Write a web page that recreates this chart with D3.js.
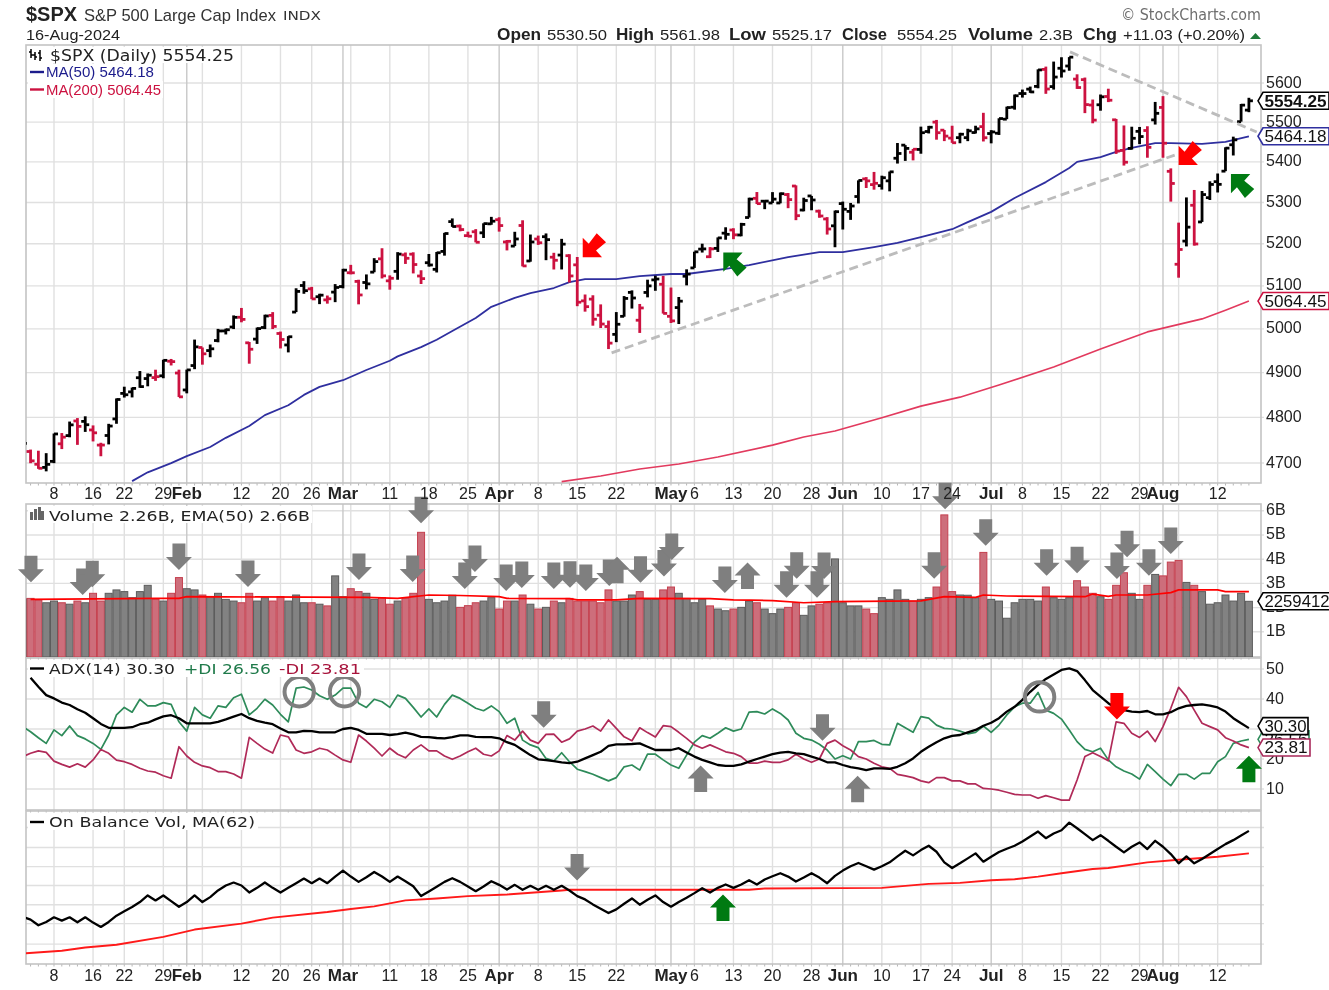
<!DOCTYPE html>
<html>
<head>
<meta charset="utf-8">
<script src="https://cdn.jsdelivr.net/npm/d3@7"></script>
<style>
  html, body { margin: 0; padding: 0; background: #fff; }
  svg { display: block; filter: blur(0.45px); }
  text { font-family: "Liberation Sans", Arial, sans-serif; }
  .spaced { font-family: "DejaVu Sans", sans-serif; }
</style>
</head>
<body>
<div id="chart"></div>
<script>
// Daily bars, 2-Jan-2024 to 16-Aug-2024 (158 sessions)
var opens = [4745.2,4725.1,4697.4,4690.6,4703.7,4741.9,4759.9,4792.1,4791.2,4772.3,4739.1,4760.1,4796.6,4853.4,4856.8,4888.6,4886.7,4888.9,4892.9,4925.9,4899.2,
  4861.1,4916.1,4957.2,4950.2,4973.1,4995.2,5004.2,5026.8,4967.9,4976.4,5003.1,5031.1,4989.3,4963.0,5038.8,5100.9,5093.0,5074.6,5067.2,5085.4,
  5098.5,5131.0,5110.5,5108.0,5132.4,5164.0,5111.9,5134.3,5173.5,5175.1,5123.3,5154.8,5139.1,5181.7,5253.4,5242.5,5219.5,5228.9,5226.3,5248.0,
  5258.0,5204.3,5194.4,5244.0,5158.9,5211.4,5217.0,5167.9,5173.0,5171.5,5149.7,5064.9,5069.0,5031.5,5005.4,4987.3,5028.9,5084.7,5019.9,5084.6,5114.1,5103.8,
  5029.0,5049.3,5122.8,5142.4,5187.2,5169.0,5189.0,5225.5,5233.1,5221.1,5263.3,5310.1,5303.1,5298.7,5298.7,5319.3,5340.3,5281.5,5315.9,5278.7,5259.8,5243.2,
  5297.2,5278.2,5314.5,5357.8,5343.8,5341.2,5353.0,5409.1,5441.9,5424.1,5431.1,5476.2,5500.0,5479.6,5459.6,5460.7,5460.7,5473.6,5488.5,
  5471.1,5471.9,5507.4,5537.9,5572.9,5584.2,5591.3,5635.2,5590.8,5638.2,5644.1,5610.1,5608.7,5543.4,5544.1,5565.3,5505.8,5428.7,5433.7,5476.6,5478.7,5505.6,
  5537.3,5376.6,5151.1,5206.4,5293.1,5252.6,5311.7,5351.0,5377.0,5442.8,5501.1,5530.5];
var highs = [4754.3,4729.3,4726.8,4721.5,4764.5,4765.5,4790.8,4798.5,4802.4,4782.3,4744.2,4785.8,4842.1,4868.4,4866.5,4903.7,4898.2,4906.7,4929.3,4931.1,4906.8,
  4906.9,4975.3,4957.2,4964.0,4999.9,5000.4,5031.0,5048.4,4969.8,5003.0,5032.7,5038.7,4993.7,4983.2,5094.4,5111.1,5097.7,5081.5,5077.4,5104.2,
  5140.3,5149.7,5114.5,5127.0,5165.6,5189.3,5124.7,5179.9,5179.1,5179.5,5136.9,5175.6,5180.3,5226.2,5261.1,5246.1,5229.1,5235.2,5249.3,5264.9,
  5263.9,5209.0,5228.8,5256.6,5222.2,5219.6,5224.8,5178.4,5211.8,5175.0,5168.4,5079.8,5078.0,5056.7,5019.0,5038.8,5076.1,5089.5,5057.7,5114.6,5124.0,5123.5,
  5096.1,5073.9,5139.1,5181.0,5200.2,5192.0,5215.3,5239.7,5237.3,5250.4,5311.6,5325.5,5305.4,5325.3,5324.3,5323.2,5341.9,5311.6,5315.9,5282.3,5264.2,5280.3,
  5302.1,5298.8,5354.2,5362.3,5375.1,5365.8,5376.0,5447.2,5441.9,5432.4,5488.5,5490.4,5505.5,5480.0,5490.8,5472.9,5483.1,5490.8,5523.6,
  5479.6,5509.7,5539.3,5570.3,5583.1,5590.8,5635.4,5642.5,5655.6,5666.9,5667.3,5622.5,5614.1,5557.5,5570.4,5585.3,5508.0,5491.5,5488.3,5487.7,5489.5,5551.4,
  5566.2,5383.9,5250.9,5312.3,5330.6,5328.0,5351.9,5371.2,5436.5,5463.2,5546.2,5561.98];
var lows = [4722.7,4699.7,4687.5,4682.1,4699.8,4730.4,4756.2,4739.6,4768.0,4747.1,4714.8,4740.6,4785.9,4844.1,4844.4,4865.9,4869.3,4881.5,4887.4,4916.3,4845.2,
  4853.5,4907.9,4918.1,4935.0,4969.1,4987.1,4999.5,5015.1,4920.3,4965.4,4999.4,4999.5,4955.0,4946.0,5038.8,5081.5,5068.9,5057.3,5058.4,5061.9,
  5094.2,5127.2,5056.8,5091.9,5132.2,5117.5,5091.1,5114.5,5151.9,5129.4,5104.4,5145.5,5131.6,5171.6,5240.7,5229.9,5216.1,5203.4,5213.9,5245.8,
  5229.2,5184.1,5194.4,5146.1,5157.2,5197.3,5160.8,5138.7,5138.8,5107.9,5052.5,5039.8,5007.3,5001.9,4953.6,4969.4,5028.0,5047.0,4990.6,5073.1,5088.5,5035.3,
  5013.5,5011.1,5101.2,5142.4,5179.0,5165.9,5180.4,5209.7,5211.0,5218.0,5263.3,5296.2,5283.6,5298.7,5297.9,5286.0,5256.9,5278.4,5280.9,5262.7,5222.1,5191.7,
  5234.3,5257.6,5297.6,5335.4,5331.3,5331.5,5327.2,5395.9,5402.5,5403.8,5420.4,5471.3,5455.6,5452.0,5447.6,5446.6,5451.9,5471.3,5451.1,
  5446.4,5467.5,5507.4,5531.6,5562.5,5574.6,5586.4,5572.2,5583.1,5614.1,5631.8,5584.8,5522.8,5497.0,5529.0,5550.9,5420.0,5390.9,5430.7,5444.4,5410.4,5493.8,
  5410.4,5302.0,5119.3,5193.6,5195.5,5252.6,5306.0,5324.4,5377.0,5416.0,5501.1,5525.17];
var closes = [4742.8,4704.8,4688.7,4697.2,4763.5,4756.5,4783.5,4780.2,4783.8,4766.0,4739.2,4780.9,4839.8,4850.4,4864.6,4868.6,4894.2,4891.0,4927.9,4925.0,4845.7,
  4906.2,4958.6,4942.8,4954.2,4995.1,4997.9,5026.6,5021.8,4953.2,5000.6,5029.7,5005.6,4975.5,4981.8,5087.0,5088.8,5069.5,5078.2,5069.8,5096.3,
  5137.1,5130.9,5078.7,5104.8,5157.4,5123.7,5117.9,5175.3,5165.3,5150.5,5117.1,5149.4,5178.5,5224.6,5241.5,5234.2,5218.2,5203.6,5248.5,5254.4,
  5243.8,5205.8,5211.5,5147.2,5204.3,5202.4,5209.9,5160.6,5199.1,5123.4,5061.8,5051.4,5022.2,5011.1,4967.2,5010.6,5070.6,5071.6,5048.4,5100.0,5116.2,5035.7,
  5018.4,5064.2,5127.8,5180.7,5187.7,5187.67,5214.1,5222.7,5221.4,5246.7,5308.2,5297.1,5303.3,5308.1,5321.4,5307.0,5267.8,5304.7,5306.0,5267.0,5235.5,5277.5,
  5283.4,5291.3,5354.0,5353.0,5347.0,5360.8,5375.3,5421.0,5433.7,5431.6,5473.2,5487.0,5473.2,5464.6,5447.9,5469.3,5477.9,5482.9,5460.5,
  5475.1,5509.0,5537.0,5567.2,5572.9,5577.0,5633.9,5584.5,5615.4,5631.2,5667.2,5588.3,5544.6,5505.0,5564.4,5555.7,5427.1,5399.2,5459.1,5463.5,5436.4,5522.3,
  5446.7,5346.6,5186.3,5240.0,5199.5,5319.3,5344.2,5344.4,5434.4,5455.2,5543.2,5554.25];

var ma50Days = [14,16,19,21,24,26,29,31,34,36,38,41,44,47,48,51,53,55,58,60,63,65,68,70,72,76,79,83,85,90,93,98,102,105,109,112,115,119,121,124,127,131,134,135,138,140,142,145,147,151,154,157];
var ma50Vals = [4661,4680,4700,4715,4735,4755,4781,4805,4827,4850,4868,4883,4906,4927,4937,4958,4975,4995,5025,5051,5072,5083,5095,5109,5116,5116,5123,5128,5128,5140,5149,5168,5180,5180,5192,5202,5216,5235,5252,5277,5311,5350,5385,5400,5412,5425,5435,5447,5447,5445,5450,5464.18];
var ma200Days = [69,74,79,84,89,96,100,104,110,115,120,125,132,138,144,151,154,157];
var ma200Vals = [4660,4672,4687,4698,4713,4739,4757,4770,4799,4825,4845,4872,4913,4954,4993,5023,5043,5064.45];

// Volume, billions of shares
var volumes = [2.36,2.38,2.31,2.20,2.27,2.20,2.14,2.27,2.20,2.59,2.27,2.59,2.73,2.66,2.41,2.66,2.92,2.34,2.27,2.59,3.24,
  2.78,2.73,2.52,2.45,2.59,2.34,2.27,2.20,2.59,2.27,2.41,2.27,2.45,2.27,2.52,2.20,2.20,2.14,2.07,3.31,
  2.45,2.78,2.66,2.59,2.34,2.41,2.14,2.27,2.38,2.59,5.11,2.34,2.20,2.27,2.51,2.01,2.08,2.20,2.27,2.41,
  1.94,2.27,2.27,2.52,2.14,1.94,2.01,2.27,2.20,2.38,2.27,2.27,2.27,2.20,2.73,2.27,2.27,2.52,2.66,2.34,2.34,2.73,
  2.85,2.59,2.38,2.20,2.34,2.07,1.94,1.87,1.94,2.01,2.27,2.20,1.94,1.75,1.94,2.01,2.20,1.68,2.07,2.14,2.20,4.01,
  2.20,2.07,2.07,1.94,1.75,2.41,2.34,2.73,2.34,2.27,2.34,2.41,2.85,5.83,2.66,2.52,2.51,2.41,4.28,
  2.34,2.27,1.56,2.20,2.34,2.34,2.27,2.85,2.41,2.34,2.41,3.11,2.85,2.59,2.45,2.34,2.92,3.44,2.59,2.34,2.92,3.37,
  3.31,3.88,3.95,3.04,2.92,2.66,2.14,2.20,2.52,2.27,2.59,2.26];
var emaDays = [1,17,20,21,44,48,52,56,61,62,70,71,76,79,88,91,96,100,104,111,115,118,122,123,126,136,137,139,140,144,147,148,153,154,157];
var emaVals = [2.34,2.38,2.38,2.45,2.42,2.38,2.52,2.50,2.45,2.38,2.37,2.32,2.32,2.38,2.37,2.32,2.29,2.20,2.25,2.27,2.28,2.45,2.42,2.52,2.48,2.45,2.56,2.46,2.52,2.52,2.62,2.73,2.73,2.66,2.66];

// ADX(14), +DI, -DI
var adx = [null,47.1,44.1,41.3,40.2,38.8,38,36.6,35.4,33.6,31.7,30.4,30.4,30.4,30.6,31.6,32.1,33.2,34.2,34.6,33.6,31.9,31.9,31.9,31.9,32.4,33.2,34.1,35,33.6,32.7,32.1,31.6,30.2,28.9,28.9,29.4,29.3,28.9,28.9,28.9,30,30.4,29.7,28.4,28.4,28.4,28,28.3,28.8,28.2,27.4,27.3,27,26.9,
  27.3,27.9,27.9,27.4,27.3,27.3,26.9,25.6,24.7,23,21.3,19.9,19.6,19.3,18.9,18.6,19.1,20.2,21.3,22.4,24.4,24.9,24.9,25,25.2,24.1,23,23,23,23.6,22.2,20.8,19.7,18.9,18,17.7,17.7,18.2,19.1,20,20.8,21.6,22.1,22.4,21.9,21.6,20.8,20,18.9,18.9,18,17.3,16.9,16.3,16.9,16.9,16.7,
  17.4,18.6,20.2,22.4,24.1,25.6,26.9,27.7,28,28.9,29.7,31.1,32.1,33.6,35.8,37.4,39.7,42.4,44.7,46.7,48.2,49.7,50.2,49.3,46.3,43,40.8,38.6,36.9,36.3,35.8,35.6,36,34.9,34.9,35.6,36.9,37.7,38,38.2,37.8,37.2,35.8,33.6,31.9,30.3];
var plusDI = [30.8,29.1,27.1,25.2,29.7,27.8,31,27.8,26.7,25.2,23.2,28,34.7,37.2,35.6,39.9,37.7,37.7,38.8,38.2,32.4,29.3,37.2,34.7,33.6,37.7,37.2,40.4,41.6,34.7,36.9,39.9,38,34.9,32.4,43.6,44,43,41.1,39.9,41.3,43.6,43.6,38.6,37.2,39.9,39.1,37.2,41.3,40.2,37.2,34,36.7,34,38.2,
  41.3,40.2,38.6,36.9,36.1,37.7,35.8,31.9,33.6,26.3,24.7,23.8,20.2,19.3,22.1,19.1,16.6,15.8,14.9,13.8,12.7,13.8,17.4,18,16.3,21.6,21.6,19.7,18,16.9,21.3,25.6,27.8,26.9,28.6,30.4,29.3,30,35.6,35.8,35,36.7,35.2,33,28.6,26.9,26.3,24.9,23,20,21.1,20,25.8,25.8,26.2,24.9,24.7,
  31.9,30.4,28.9,34.1,33.6,31.3,30.2,30,29.3,28.4,28.9,31,28.9,31.3,34.7,37.4,38.6,38.6,42.2,36.3,35.2,33.3,29.7,25.8,23.2,22.4,23.6,19.7,17.4,16,15,13.3,18.2,15.8,13.3,11.1,14.9,14.9,13.3,15.2,15.2,19.1,20.8,25.2,26,26.56];
var minusDI = [20.8,21.9,22.7,22.2,19.3,18.2,17.3,18.4,17.3,19.7,23.2,21.9,19.6,19.1,18.2,16.9,16,15.6,14.4,13.6,24.1,21,18.9,17.7,17.1,15.8,15.8,15,13.6,27.2,25.2,23.3,22,28,27.4,23,21.9,22.4,23.6,23,21.3,19.7,18.9,28,26,23.6,21,23.6,21.6,20.4,23,24.7,22.7,22.7,21,
  19.9,21,22.4,23.6,21.6,21,22.7,27.8,26.3,29.3,26.3,25.2,28.2,28.3,25.6,26.7,29.3,30,31,29.3,33,30.2,27.4,26.1,30.4,28.8,27.3,31.1,30.8,28.9,26.9,24.7,23.6,24.7,23.6,22.4,21.9,20.8,18.6,18.6,19.3,18.9,18.9,19.7,21.6,20,18.9,20,25.2,26.3,24.4,23,20.8,20,18.6,17.4,16.9,
  14.9,14.4,13.8,12.7,12.1,13.8,13.8,12.7,12.7,11.7,11.7,10.2,10,9.6,8.9,8.2,8,8,6.9,7.8,7.1,6.3,6.3,13,20.8,22.1,20.8,19.4,32.4,31.9,28.6,27.2,29.3,25.8,30.8,36.9,43.9,40.8,36.3,31.9,30.8,29.7,27.1,26,24.7,23.81];

// On Balance Volume, in arbitrary units (the panel has no axis)
var obv = [142,134,117,127,141,131,141,126,141,125,112,127,146,159,172,187,207,192,207,190,173,187,207,187,202,222,237,246,237,216,230,246,230,216,230,244,258,244,258,244,264,282,264,248,262,278,264,248,264,250,235,205,219,233,248,259,248,234,220,234,250,239,225,239,224,236,224,236,224,236,222,205,195,180,167,154,165,182,198,179,194,207,
  187,173,187,200,214,229,216,230,240,230,240,253,240,255,265,274,264,249,261,274,261,244,266,282,295,305,295,285,295,307,325,342,328,344,357,339,307,290,304,319,334,309,324,338,348,357,370,385,400,380,394,404,427,410,392,374,389,372,354,337,354,367,347,372,354,332,304,325,304,317,332,347,362,374,388,402];
var obvMaDays = [0,5,8,12,18,22,28,32,39,42,45,49,53,57,62,69,70,93,95,110,116,120,124,127,130,133,137,139,144,148,153,157];
var obvMaVals = [32,40,50,58,82,104,122,140,157,166,174,192,198,205,210,222,224,224,228,230,242,245,253,256,264,274,287,290,307,315,324,334];
var obvGrid = [60,122,179,237,294,352,412];

// Axis labels
var tickDays = [4,9,13,18,21,28,33,37,41,47,52,57,61,66,71,76,83,86,91,96,101,105,110,115,119,124,128,133,138,143,146,153];
var tickLabels = ['8','16','22','29','Feb','12','20','26','Mar','11','18','25','Apr','8','15','22','May','6','13','20','28','Jun','10','17','24','Jul','8','15','22','29','Aug','12'];
var extraGridDays = [23,42,81,148];
var priceTicks = [4700,4800,4900,5000,5100,5200,5300,5400,5500,5600];
var volTicks = [1,2,3,4,5,6];
var adxTicks = [10,20,30,40,50];
var adxLabels = [10,20,40,50];

// Annotations, as [session, panel value]
var volDownArrows = [[1.05,3.05],[7.67,2.52],[8.9,2.84],[20,3.55],[28.84,2.85],[43.05,3.14],[49.93,3.06],[51,5.48],[56.6,2.77],[57.9,3.47],[61.9,2.69],[63.9,2.81],[68,2.77],[70.07,2.82],[72.1,2.69],[75.1,2.89],[79.1,3.03],[82.1,3.28],[83.1,3.97],[89.9,2.6],[97.8,2.41],[99.1,3.19],[101.7,2.41],[102.6,3.18],[116.7,3.19],[118.1,6.06],[123.3,4.56],[131.1,3.32],[135,3.42],[140.1,3.18],[141.4,4.08],[144.2,3.32],[147,4.21]];
var volUpArrows = [[76.1,4.1],[92.8,3.86]];
var adxDownArrows = [[66.7,30.4],[102.4,26.1]];
var adxUpArrows = [[86.8,17.8],[106.9,14.4]];
var adxCircles = [[35.4,42.4],[41.2,42.4],[130.2,40.7]];
var trendLower = [[75.4,4945],[147.5,5417]];
var trendUpper = [[134.1,5681],[158,5475]];

var width = 1329, height = 990;
var plotLeft = 26, plotRight = 1261;
var priceTop = 45, priceBottom = 483;
var volTop = 504, volBottom = 657;
var adxTop = 658, adxBottom = 810;
var obvTop = 811, obvBottom = 964;

var svg = d3.select('#chart').append('svg')
  .attr('width', width)
  .attr('height', height);

// Scales
var x = d3.scaleLinear().domain([0, 157]).range([22.76, 1248.9]);
var yPrice = d3.scaleLog().domain([4657, 5699]).range([priceBottom, priceTop]);
var yVol = d3.scaleLinear().domain([0, 6.28]).range([656, volTop]);
var yAdx = d3.scaleLinear().domain([3, 53.67]).range([adxBottom, adxTop]);
var yObv = d3.scaleLinear().domain([0, 462]).range([obvBottom, obvTop]);

var panels = [
  { id: 'price', top: priceTop, bottom: priceBottom, grid: priceTicks, y: yPrice },
  { id: 'vol', top: volTop, bottom: volBottom, grid: volTicks, y: yVol },
  { id: 'adx', top: adxTop, bottom: adxBottom, grid: adxTicks, y: yAdx },
  { id: 'obv', top: obvTop, bottom: obvBottom, grid: obvGrid, y: yObv }
];

var defs = svg.append('defs');
panels.forEach(function (p) {
  defs.append('clipPath').attr('id', 'clip-' + p.id)
    .append('rect')
    .attr('x', plotLeft).attr('y', p.top)
    .attr('width', plotRight - plotLeft).attr('height', p.bottom - p.top);
});

// Grids and frames
var monthLabels = ['Feb', 'Mar', 'Apr', 'May', 'Jun', 'Jul', 'Aug'];
panels.forEach(function (p) {
  var g = svg.append('g');
  g.selectAll('.h').data(p.grid).enter().append('line')
    .attr('x1', plotLeft).attr('x2', plotRight + 3)
    .attr('y1', function (d) { return p.y(d); })
    .attr('y2', function (d) { return p.y(d); })
    .attr('stroke', '#e0e0e0').attr('stroke-width', 1.4);
  g.selectAll('.v').data(tickDays.concat(extraGridDays)).enter().append('line')
    .attr('x1', function (d) { return x(d); })
    .attr('x2', function (d) { return x(d); })
    .attr('y1', p.top).attr('y2', p.bottom)
    .attr('stroke', function (d) {
      var i = tickDays.indexOf(d);
      return i >= 0 && monthLabels.indexOf(tickLabels[i]) >= 0 ? '#c8c8c8' : '#e0e0e0';
    })
    .attr('stroke-width', 1.4);
  // minor day ticks along the bottom edge
  g.selectAll('.m').data(d3.range(1, 158)).enter().append('line')
    .attr('x1', function (d) { return x(d); })
    .attr('x2', function (d) { return x(d); })
    .attr('y1', p.bottom).attr('y2', p.bottom + 2.5)
    .attr('stroke', '#b5b5b5').attr('stroke-width', 1);
  g.append('rect')
    .attr('x', plotLeft).attr('y', p.top)
    .attr('width', plotRight - plotLeft).attr('height', p.bottom - p.top)
    .attr('fill', 'none').attr('stroke', '#c4c4c4').attr('stroke-width', 1.6);
});

var lineOf = function (yScale) {
  return d3.line()
    .defined(function (d) { return d.v != null; })
    .x(function (d) { return x(d.d); })
    .y(function (d) { return yScale(d.v); });
};
var byDay = function (values) {
  return values.map(function (v, i) { return { d: i, v: v }; });
};
var sampled = function (days, values) {
  return days.map(function (d, i) { return { d: d, v: values[i] }; });
};
var drawLine = function (id, yScale, pts, color, w) {
  return svg.append('path')
    .attr('clip-path', 'url(#clip-' + id + ')')
    .attr('d', lineOf(yScale)(pts))
    .attr('fill', 'none')
    .attr('stroke', color)
    .attr('stroke-width', w)
    .attr('stroke-linejoin', 'round');
};

var upDay = function (i) { return i === 0 || closes[i] >= closes[i - 1]; };
var barRed = '#cc1240';

// Price panel
drawLine('price', yPrice, sampled(ma200Days, ma200Vals), '#e23a5e', 1.6);
drawLine('price', yPrice, sampled(ma50Days, ma50Vals), '#2f2f9f', 1.8);

var bars = svg.append('g').attr('clip-path', 'url(#clip-price)')
  .selectAll('g').data(closes).enter().append('g')
  .attr('stroke', function (d, i) { return upDay(i) ? '#000' : barRed; })
  .attr('stroke-width', 2.8);
bars.append('line')
  .attr('x1', function (d, i) { return x(i); })
  .attr('x2', function (d, i) { return x(i); })
  .attr('y1', function (d, i) { return yPrice(highs[i]); })
  .attr('y2', function (d, i) { return yPrice(lows[i]); });
bars.append('line')
  .attr('x1', function (d, i) { return x(i) - 4; })
  .attr('x2', function (d, i) { return x(i); })
  .attr('y1', function (d, i) { return yPrice(opens[i]); })
  .attr('y2', function (d, i) { return yPrice(opens[i]); });
bars.append('line')
  .attr('x1', function (d, i) { return x(i); })
  .attr('x2', function (d, i) { return x(i) + 4; })
  .attr('y1', function (d, i) { return yPrice(closes[i]); })
  .attr('y2', function (d, i) { return yPrice(closes[i]); });

[trendLower, trendUpper].forEach(function (t) {
  svg.append('path')
    .attr('d', d3.line().x(function (d) { return x(d[0]); }).y(function (d) { return yPrice(d[1]); })(t))
    .attr('fill', 'none').attr('stroke', '#bcbcbc')
    .attr('stroke-width', 2.8).attr('stroke-dasharray', '9,5');
});

// Volume panel
svg.append('g').attr('clip-path', 'url(#clip-vol)')
  .selectAll('rect').data(volumes).enter().append('rect')
  .attr('x', function (d, i) { return x(i) - 3.5; })
  .attr('width', 7)
  .attr('y', function (d) { return yVol(d); })
  .attr('height', function (d) { return volBottom - yVol(d); })
  .attr('fill', function (d, i) { return upDay(i) ? '#828282' : '#cd6e7b'; })
  .attr('stroke', function (d, i) { return upDay(i) ? '#5c5c5c' : '#c5404f'; })
  .attr('stroke-width', 1);
drawLine('vol', yVol, sampled(emaDays, emaVals), '#ff0000', 1.7);

// ADX panel
drawLine('adx', yAdx, byDay(plusDI), '#2e8b5a', 1.7);
drawLine('adx', yAdx, byDay(minusDI), '#b02a58', 1.7);
drawLine('adx', yAdx, byDay(adx), '#000', 2.3);

// OBV panel
drawLine('obv', yObv, sampled(obvMaDays, obvMaVals), '#ff1a1a', 1.9);
drawLine('obv', yObv, byDay(obv), '#000', 2.3);

// Annotation arrows
var blockArrow = function (px, py, dir, color) {
  var shape = [[0, 0], [13, -13], [6.5, -13], [6.5, -26.5], [-6.5, -26.5], [-6.5, -13], [-13, -13]];
  svg.append('polygon')
    .attr('points', shape.map(function (p) { return [px + p[0], py + (dir === 'down' ? p[1] : -p[1])].join(','); }).join(' '))
    .attr('fill', color);
};
var cornerArrow = function (px, py, flip, color) {
  var shape = [[0, 0], [19.3, 0], [13.3, -6.7], [23.3, -15], [14, -24], [6, -13.3], [0, -19.3]];
  svg.append('polygon')
    .attr('points', shape.map(function (p) { return [px + p[0], py + (flip ? -p[1] : p[1])].join(','); }).join(' '))
    .attr('fill', color);
};
var arrowGrey = '#7f7f7f';

cornerArrow(x(71.7), yPrice(5168), false, '#ff0000');
cornerArrow(x(148), yPrice(5392), false, '#ff0000');
cornerArrow(x(89.7), yPrice(5179), true, '#007a12');
cornerArrow(x(154.7), yPrice(5370), true, '#007a12');

volDownArrows.forEach(function (a) { blockArrow(x(a[0]), yVol(a[1]), 'down', arrowGrey); });
volUpArrows.forEach(function (a) { blockArrow(x(a[0]), yVol(a[1]), 'up', arrowGrey); });
adxDownArrows.forEach(function (a) { blockArrow(x(a[0]), yAdx(a[1]), 'down', arrowGrey); });
adxUpArrows.forEach(function (a) { blockArrow(x(a[0]), yAdx(a[1]), 'up', arrowGrey); });
blockArrow(x(140.1), yAdx(33.2), 'down', '#ff0000');
blockArrow(x(157), yAdx(21.1), 'up', '#007a12');
blockArrow(x(70.98), yObv(252), 'down', arrowGrey);
blockArrow(x(89.66), yObv(210), 'up', '#007a12');

svg.selectAll('.circ').data(adxCircles).enter().append('circle')
  .attr('cx', function (d) { return x(d[0]); })
  .attr('cy', function (d) { return yAdx(d[1]); })
  .attr('r', 14.7)
  .attr('fill', 'none').attr('stroke', '#7f7f7f').attr('stroke-width', 4);

// Date labels
[493, 975].forEach(function (mid) {
  svg.selectAll('.xt' + mid).data(tickLabels).enter().append('text')
    .attr('x', function (d, i) { return x(tickDays[i]); })
    .attr('y', mid + 6)
    .attr('text-anchor', 'middle')
    .attr('font-size', function (d) { return monthLabels.indexOf(d) >= 0 ? 17 : 16; })
    .attr('font-weight', function (d) { return monthLabels.indexOf(d) >= 0 ? 'bold' : 'normal'; })
    .attr('fill', '#222')
    .text(function (d) { return d; });
});

// Right axis labels
var axisLabels = function (ticks, yScale, fmt) {
  svg.append('g').selectAll('text').data(ticks).enter().append('text')
    .attr('x', 1266)
    .attr('y', function (d) { return yScale(d) + 4.5; })
    .attr('font-size', 16)
    .attr('fill', '#222')
    .text(fmt);
};
axisLabels(priceTicks, yPrice, function (d) { return d; });
axisLabels(volTicks, yVol, function (d) { return d + 'B'; });
axisLabels(adxLabels, yAdx, function (d) { return d; });

// Value tags
var valueTag = function (cy, label, color, right, textW, bold) {
  var g = svg.append('g');
  g.append('polygon')
    .attr('points', [[1258, cy], [1263, cy - 8.5], [right, cy - 8.5], [right, cy + 8.5], [1263, cy + 8.5]].join(' '))
    .attr('fill', '#fff').attr('stroke', color).attr('stroke-width', 1.6);
  g.append('text')
    .attr('x', 1264.5).attr('y', cy + 5.8)
    .attr('font-size', 16.5)
    .attr('font-weight', bold ? 'bold' : 'normal')
    .attr('fill', '#111')
    .attr('textLength', textW)
    .attr('lengthAdjust', 'spacingAndGlyphs')
    .text(label);
};
valueTag(yPrice(closes[157]), '5554.25', '#000', 1329, 62, true);
valueTag(yPrice(5464.18), '5464.18', '#2f2f9f', 1329, 62);
valueTag(yPrice(5064.45), '5064.45', '#cc1240', 1329, 62);
valueTag(yVol(volumes[157]), '2259412', '#000', 1331, 65);
valueTag(yAdx(26.56), '26.56', '#2e8b5a', 1309, 43);
valueTag(yAdx(30.3) - 2, '30.30', '#000', 1308, 42);
valueTag(yAdx(23.81), '23.81', '#a8285a', 1310, 43);

// Legends
var fitted = function (px, py, txt, w, size, color, cls, weight) {
  return svg.append('text')
    .attr('x', px).attr('y', py)
    .attr('class', cls || null)
    .attr('font-size', size)
    .attr('font-weight', weight || 'normal')
    .attr('fill', color)
    .attr('textLength', w)
    .attr('lengthAdjust', 'spacingAndGlyphs')
    .text(txt);
};
var legendBack = function (px, py, w, h) {
  svg.append('rect').attr('x', px).attr('y', py).attr('width', w).attr('height', h).attr('fill', '#fff');
};
var legendDash = function (px, py, color) {
  svg.append('line').attr('x1', px).attr('x2', px + 14).attr('y1', py).attr('y2', py)
    .attr('stroke', color).attr('stroke-width', 2.4);
};

legendBack(28, 47, 208, 16);
legendBack(28, 64, 128, 17);
legendBack(28, 81, 135, 17);
// little bars in front of the price legend
[[31, 49, 58], [35, 52, 60], [40, 50, 61]].forEach(function (b) {
  svg.append('line').attr('x1', b[0]).attr('x2', b[0]).attr('y1', b[1]).attr('y2', b[2]).attr('stroke', '#000').attr('stroke-width', 1.5);
  svg.append('line').attr('x1', b[0] - 2).attr('x2', b[0]).attr('y1', b[1] + 3).attr('y2', b[1] + 3).attr('stroke', '#000').attr('stroke-width', 1.3);
  svg.append('line').attr('x1', b[0]).attr('x2', b[0] + 2).attr('y1', b[2] - 3).attr('y2', b[2] - 3).attr('stroke', '#000').attr('stroke-width', 1.3);
});
fitted(50, 61, '$SPX (Daily) 5554.25', 184, 15, '#222', 'spaced');
legendDash(30, 72, '#1c1c8c');
fitted(46, 77, 'MA(50) 5464.18', 108, 14.5, '#1c1c8c');
legendDash(30, 89.5, '#cc1240');
fitted(46, 94.5, 'MA(200) 5064.45', 115, 14.5, '#cc1240');

legendBack(28, 506, 284, 17);
[[30, 512, 3], [34, 509, 3], [38, 507, 3], [41, 511, 3]].forEach(function (b) {
  svg.append('rect').attr('x', b[0]).attr('y', b[1]).attr('width', b[2]).attr('height', 520 - b[1]).attr('fill', '#666');
});
fitted(49, 521, 'Volume 2.26B, EMA(50) 2.66B', 261, 14.5, '#222', 'spaced');

legendBack(28, 660, 336, 17);
legendDash(30, 668.5, '#000');
fitted(49, 674, 'ADX(14) 30.30', 126, 14.5, '#222', 'spaced');
fitted(184, 674, '+DI 26.56', 87, 14.5, '#1f7a4a', 'spaced');
fitted(279, 674, '-DI 23.81', 82, 14.5, '#a8143c', 'spaced');

legendBack(28, 813, 230, 17);
legendDash(30, 822, '#000');
fitted(49, 827, 'On Balance Vol, MA(62)', 206, 14.5, '#222', 'spaced');

// Header
fitted(26, 21, '$SPX', 51, 20, '#222', null, 'bold');
fitted(84, 21, 'S&P 500 Large Cap Index', 192, 17, '#333');
fitted(283, 20, 'INDX', 38, 13, '#333', 'spaced');
fitted(26, 40, '16-Aug-2024', 94, 15.5, '#222');
fitted(1121, 20, '\u00a9 StockCharts.com', 140, 15.5, '#6e6e6e', 'spaced');

var headerItems = [
  ['Open', 497, 44, true], ['5530.50', 547, 60], ['High', 616, 38, true], ['5561.98', 660, 60],
  ['Low', 729, 37, true], ['5525.17', 772, 60], ['Close', 842, 45, true], ['5554.25', 897, 60],
  ['Volume', 968, 65, true], ['2.3B', 1039, 34], ['Chg', 1083, 34, true], ['+11.03 (+0.20%)', 1123, 122]
];
headerItems.forEach(function (h) {
  fitted(h[1], 40, h[0], h[2], h[3] ? 17 : 15.5, '#222', null, h[3] ? 'bold' : 'normal');
});
svg.append('polygon').attr('points', '1250,39 1261,39 1255.5,33').attr('fill', '#1f7a3a');
</script>
</body>
</html>
